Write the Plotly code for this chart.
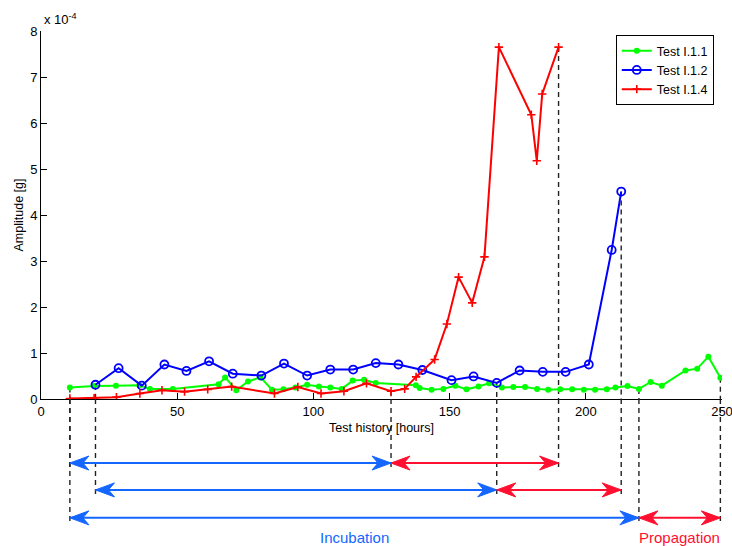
import plotly.graph_objects as go

# ---------------- data (amplitude in units of 1e-4 g) ----------------
# Test I.1.1
hours_111 = [10.6, 19.4, 27.5, 36.1, 40.0, 48.4, 65.2, 67.6, 71.7, 76.0,
             80.6, 84.8, 89.0, 93.4, 97.7, 102.0, 106.2, 110.4, 114.4, 118.6,
             122.9, 137.6, 139.0, 143.4, 147.7, 152.1, 156.2, 160.6, 164.5, 169.2,
             173.4, 177.7, 182.1, 186.2, 190.6, 195.0, 199.3, 203.4, 207.7, 210.9,
             215.3, 219.5, 223.8, 227.9, 236.6, 240.9, 245.0, 249.4]
amp_111 = [0.25, 0.28, 0.29, 0.30, 0.22, 0.22, 0.32, 0.47, 0.19, 0.38,
           0.47, 0.20, 0.21, 0.25, 0.31, 0.27, 0.25, 0.22, 0.40, 0.42,
           0.35, 0.30, 0.24, 0.20, 0.22, 0.29, 0.21, 0.27, 0.34, 0.25,
           0.26, 0.26, 0.22, 0.20, 0.21, 0.21, 0.20, 0.20, 0.21, 0.25,
           0.28, 0.22, 0.37, 0.29, 0.62, 0.66, 0.92, 0.46]

# Test I.1.2
hours_112 = [20.0, 28.5, 37.0, 45.3, 53.4, 61.7, 70.4, 80.9, 89.2, 97.7,
             106.2, 114.6, 122.9, 131.2, 140.0, 150.7, 158.8, 167.3, 175.7, 184.2,
             192.6, 201.1, 209.5, 213.0]
amp_112 = [0.31, 0.67, 0.29, 0.75, 0.61, 0.82, 0.55, 0.51, 0.77, 0.51,
           0.64, 0.64, 0.78, 0.75, 0.63, 0.41, 0.49, 0.35, 0.62, 0.59,
           0.59, 0.75, 3.24, 4.51]

# Test I.1.4
hours_114 = [10.6, 19.5, 27.7, 36.3, 44.4, 52.7, 61.2, 70.0, 85.7, 94.3,
             102.8, 111.2, 119.5, 128.5, 133.5, 137.7, 144.5, 149.0, 153.3, 158.3,
             162.8, 168.1, 180.0, 182.0, 184.0, 190.0]
amp_114 = [0.01, 0.02, 0.04, 0.12, 0.19, 0.16, 0.21, 0.27, 0.12, 0.26,
           0.12, 0.17, 0.34, 0.17, 0.22, 0.48, 0.86, 1.63, 2.65, 2.09,
           3.09, 7.65, 6.18, 5.18, 6.63, 7.65]

test_names = ["Test I.1.1", "Test I.1.2", "Test I.1.4"]
# index of the last incubation sample in each test
incubation_end_idx = [41, 17, 13]

x_ticks = [0, 50, 100, 150, 200, 250]
y_ticks = [0, 1, 2, 3, 4, 5, 6, 7, 8]
phase_labels = ["Incubation", "Propagation"]

# ---------------- styling ----------------
FONT = "Liberation Sans, Arial, sans-serif"
INC_COLOR = "#1466ff"
PROP_COLOR = "#ff1030"
DASH = dict(color="#222222", width=1.4, dash="5px,4px")

series = [
    (hours_111, amp_111, dict(color="#00ff00", width=2),
     dict(symbol="circle", size=6, color="#00ff00")),
    (hours_112, amp_112, dict(color="#0000ff", width=2),
     dict(symbol="circle-open", size=8, color="#0000ff", line=dict(width=1.8, color="#0000ff"))),
    (hours_114, amp_114, dict(color="#ff0000", width=2),
     dict(symbol="cross-thin-open", size=6, color="#ff0000", line=dict(width=1.6, color="#ff0000"))),
]

# vertical position (paper units) of each test's phase arrows below the axes
arrow_rows = [-0.323, -0.247, -0.174]
label_row = -0.375

fig = go.Figure()

for name, (hx, hy, ln, mk) in zip(test_names, series):
    fig.add_trace(go.Scatter(x=hx, y=hy, mode="lines+markers", name=name,
                             line=ln, marker=mk))


def dashed_drop(x, y_val, y_row):
    # from the sample down to the x axis ...
    fig.add_shape(type="line", xref="x", yref="y", x0=x, x1=x, y0=y_val, y1=0,
                  line=DASH, layer="below")
    # ... and on below the axes to the phase arrow
    fig.add_shape(type="line", xref="x", yref="paper", x0=x, x1=x, y0=0, y1=y_row - 0.012,
                  line=DASH)


HEAD_L, HEAD_W, HEAD_N = 19, 7, 13


def double_arrow(x0, x1, y_row, color):
    fig.add_shape(type="line", xref="x", yref="paper", x0=x0, x1=x1,
                  y0=y_row, y1=y_row, line=dict(color=color, width=2))
    for tip, s in ((x0, 1), (x1, -1)):
        path = (f"M0,0 L{s * HEAD_L},{HEAD_W} L{s * HEAD_N},0 "
                f"L{s * HEAD_L},{-HEAD_W} Z")
        fig.add_shape(type="path", xref="x", yref="paper",
                      xsizemode="pixel", ysizemode="pixel",
                      xanchor=tip, yanchor=y_row, path=path,
                      fillcolor=color, line=dict(color=color, width=1))


for (hx, hy, _, _), k, row in zip(series, incubation_end_idx, arrow_rows):
    for i in (0, k, len(hx) - 1):
        dashed_drop(hx[i], hy[i], row)
    double_arrow(hx[0], hx[k], row, INC_COLOR)
    double_arrow(hx[k], hx[-1], row, PROP_COLOR)

# phase names under the Test I.1.1 arrows
hx0, k0 = hours_111, incubation_end_idx[0]
fig.add_annotation(x=(hx0[0] + hx0[k0]) / 2, y=label_row, xref="x", yref="paper",
                   xanchor="center", yanchor="middle",
                   text=phase_labels[0], showarrow=False,
                   font=dict(family=FONT, size=15, color=INC_COLOR))
fig.add_annotation(x=(hx0[k0] + hx0[-1]) / 2, y=label_row, xref="x", yref="paper",
                   xanchor="center", yanchor="middle",
                   text=phase_labels[1], showarrow=False,
                   font=dict(family=FONT, size=15, color=PROP_COLOR))

# axis multiplier
fig.add_annotation(x=0, y=1, xref="paper", yref="paper", xanchor="left", yanchor="bottom",
                   xshift=1, yshift=2, text="x 10<sup>-4</sup>", showarrow=False,
                   font=dict(family=FONT, size=13, color="black"))

axis_common = dict(showgrid=False, zeroline=False, showline=True, linecolor="black",
                   linewidth=1, ticks="inside", ticklen=6, tickcolor="black",
                   ticklabeloverflow="allow", automargin=False,
                   tickfont=dict(family=FONT, size=13, color="black"), mirror=False)

fig.update_layout(
    width=732, height=546,
    margin=dict(l=41, r=10, t=31, b=147, autoexpand=False),
    plot_bgcolor="white", paper_bgcolor="white",
    font=dict(family=FONT, color="black"),
    xaxis=dict(range=[0, 250], tickvals=x_ticks,
               title=dict(text="Test history [hours]", standoff=5,
                          font=dict(family=FONT, size=12.5)),
               **axis_common),
    yaxis=dict(range=[0, 8], tickvals=y_ticks,
               title=dict(text="Amplitude [g]", standoff=3,
                          font=dict(family=FONT, size=12.5)),
               **axis_common),
    legend=dict(x=0.844, y=0.989, xanchor="left", yanchor="top",
                bordercolor="black", borderwidth=1, bgcolor="white",
                font=dict(family=FONT, size=12.5), tracegroupgap=0,
                itemwidth=30),
    showlegend=True,
)

fig.write_html("out.html")
